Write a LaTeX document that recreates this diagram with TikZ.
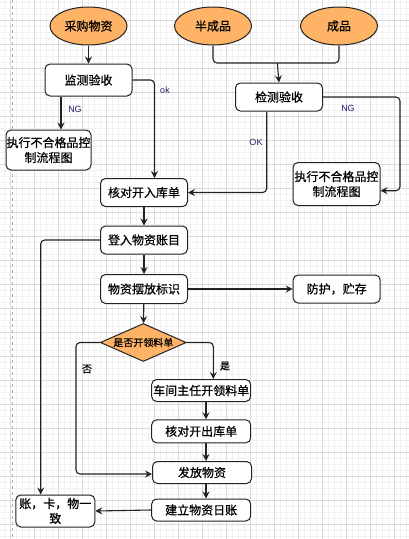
\documentclass[tikz,border=0pt]{standalone}
\usepackage{fontspec}
\setmainfont{Liberation Sans}
\newfontfamily\cjk[FakeBold=0.6]{Noto Sans CJK SC}
\usepackage{tikz}
\usetikzlibrary{shapes,arrows.meta}
\definecolor{srcorange}{HTML}{FFB366}
\definecolor{edgegray}{HTML}{222222}
\definecolor{labelblue}{HTML}{20206A}
\definecolor{gridmajor}{HTML}{DADADA}
\definecolor{gridminor}{HTML}{F1F1F1}
\tikzstyle{stepbox}=[draw=edgegray, line width=1pt, rounded corners=5pt, fill=white,
  align=center, inner sep=0pt, minimum width=87pt, minimum height=28pt,
  font=\cjk\fontsize{12}{15}\selectfont]
\tikzstyle{source}=[ellipse, draw=edgegray, line width=1pt, fill=srcorange,
  minimum width=77pt, minimum height=38pt, inner sep=0pt,
  font=\cjk\fontsize{12}{15}\selectfont]
\tikzstyle{decision}=[diamond, draw=edgegray, line width=1pt, fill=srcorange,
  aspect=2.26, minimum width=86pt, minimum height=38pt, inner sep=0pt,
  font=\cjk\fontsize{10}{12}\selectfont]
\tikzstyle{link}=[draw=edgegray, line width=1.1pt, rounded corners=4pt]
\tikzstyle{arr}=[link, -{Stealth[length=7pt,width=7pt,inset=2.5pt]}]
\tikzstyle{edgelabel}=[font=\fontsize{9}{10}\selectfont, text=labelblue, inner sep=0pt]
\tikzstyle{cjklabel}=[font=\cjk\fontsize{10}{11}\selectfont, inner sep=0pt]

\begin{document}
\begin{tikzpicture}[x=1pt,y=-1pt]
  \useasboundingbox (0,0) rectangle (409,539);
  \fill[white] (0,0) rectangle (409,539);
  % grid
  \foreach \gx in {4.7,10.7,...,409}{ \draw[gridminor,line width=0.5pt] (\gx,0) -- (\gx,539); }
  \foreach \gy in {2,8,...,539}{ \draw[gridminor,line width=0.5pt] (0,\gy) -- (409,\gy); }
  \foreach \gx in {10.7,34.7,...,409}{ \draw[gridmajor,line width=0.7pt] (\gx,0) -- (\gx,539); }
  \foreach \gy in {20,44,...,539}{ \draw[gridmajor,line width=0.7pt] (0,\gy) -- (409,\gy); }
  \draw[gray!60,line width=0.7pt,dash pattern=on 3pt off 3pt] (12,0) -- (12,539);

  % sources
  \node[source] (caigou) at (88.5,26){采购物资};
  \node[source] (banchengpin) at (213,26){半成品};
  \node[source] (chengpin) at (339,26){成品};
  % inspection
  \node[stepbox, minimum height=32pt] (jiance) at (88.5,80){监测验收};
  \node[stepbox, minimum width=85pt, minimum height=40pt] (buhegeA) at (48.5,150){执行不合格品控\\制流程图};
  \node[stepbox] (jianyan) at (279,97){检测验收};
  \node[stepbox, minimum height=43pt] (buhegeB) at (336.5,184){执行不合格品控\\制流程图};
  % main flow
  \node[stepbox] (ruku) at (144,192.5){核对开入库单};
  \node[stepbox] (dengru) at (144,240){登入物资账目};
  \node[stepbox, minimum height=29pt] (baifang) at (144,289){物资摆放标识};
  \node[stepbox] (fanghu) at (336.7,289){防护，贮存};
  \node[decision] (lingliao) at (143.3,342.5){是否开领料单};
  \node[stepbox, minimum width=99pt, minimum height=22pt] (zhuren) at (201.2,390.5){车间主任开领料单};
  \node[stepbox, minimum width=99pt, minimum height=23pt] (chuku) at (201.2,431.3){核对开出库单};
  \node[stepbox, minimum width=99pt, minimum height=22pt] (fafang) at (202,472.5){发放物资};
  \node[stepbox, minimum width=99pt, minimum height=22pt] (rizhang) at (201.2,510){建立物资日账};
  \node[stepbox, minimum width=79pt, minimum height=32pt] (yizhi) at (55.3,511){账，卡，物一\\致};

  % links from the sources
  \draw[arr] (caigou) -- (jiance);
  \coordinate (merge) at (277.3,63);
  \draw[link] (banchengpin.south) |- (merge) -| (chengpin.south);
  \draw[arr] (merge) -- (jianyan.north);
  \draw[arr] (jiance.east) -| ([xshift=10.5pt]ruku.north);
  \draw[arr] ([xshift=-27.5pt]jiance.south) -- ([xshift=-27.5pt]jiance.south |- buhegeA.north);
  \draw[arr] ([xshift=-12.3pt]jianyan.south) |- (ruku.east);
  \coordinate (ngturn) at (400,97);
  \draw[arr] (jianyan.east) -- (ngturn) |- ([yshift=-6.7pt]buhegeB.east);
  \node[edgelabel] (lok) at (165,90){ok};
  \node[edgelabel] (lngA) at (75,109){NG};
  \node[edgelabel] (lngB) at (348,108){NG};
  \node[edgelabel] (lokB) at (256,142){OK};

  % store and issue
  \draw[arr] (ruku) -- (dengru);
  \draw[arr] (dengru) -- (baifang);
  \draw[arr] (baifang) -- (fanghu);
  \draw[arr] (baifang) -- (lingliao);
  \draw[arr] (dengru.west) -| ([xshift=-14.6pt]yizhi.north);
  \coordinate (fouturn) at (76,342.5);
  \draw[arr] (lingliao.west) -- (fouturn) |- ([yshift=-1.5pt]fafang.west);
  \draw[arr] (lingliao.east) -| ([xshift=12.1pt]zhuren.north);
  \node[cjklabel] (lfou) at (87,369){否};
  \node[cjklabel] (lshi) at (225,366){是};
  \draw[arr] ([xshift=4.8pt]zhuren.south) -- ([xshift=4.8pt]chuku.north);
  \draw[arr] ([xshift=4.8pt]chuku.south) -- ([xshift=4pt]fafang.north);
  \draw[arr] ([xshift=4pt]fafang.south) -- ([xshift=4.8pt]rizhang.north);
  \draw[arr] (rizhang.west) -- (yizhi.east);
\end{tikzpicture}
\end{document}
